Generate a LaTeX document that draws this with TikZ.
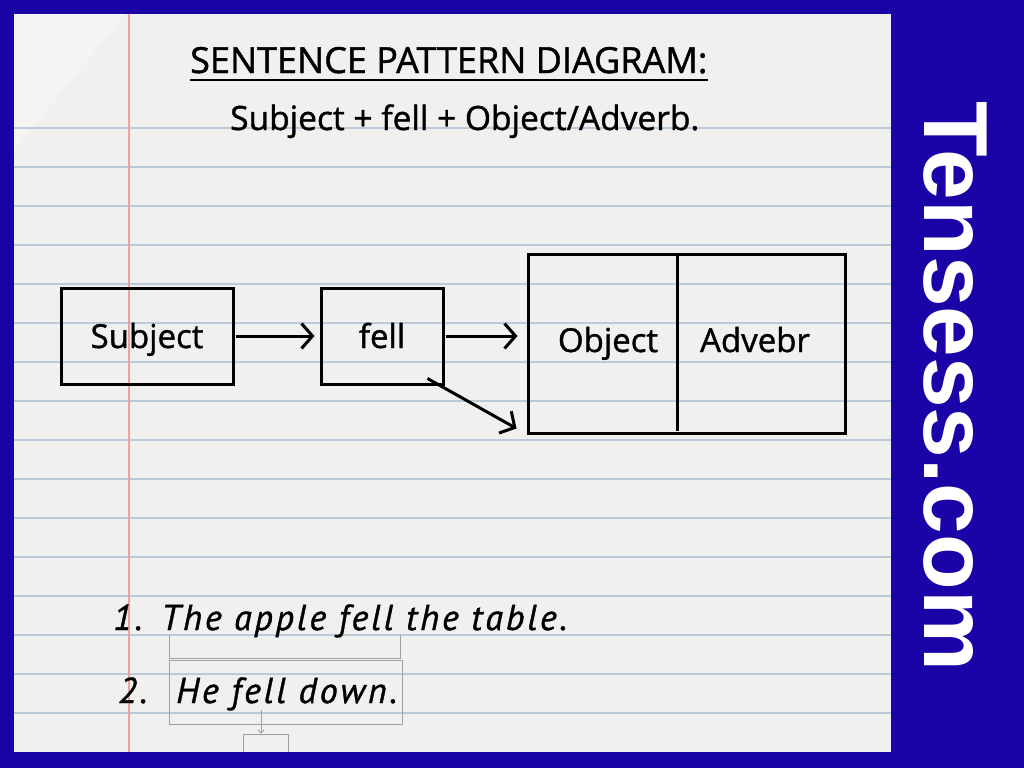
\documentclass[tikz,border=0pt]{standalone}
\usepackage{fontspec}
\setmainfont{Open Sans}[FakeBold=1.2]
\newfontfamily\hand{PT Sans}[LetterSpace=8,FakeBold=1]
\newfontfamily\brand{Liberation Sans}
\usetikzlibrary{arrows.meta}
\definecolor{bgblue}{RGB}{26,4,168}
\definecolor{paper}{RGB}{240,240,238}
\definecolor{rule}{RGB}{186,202,216}
\definecolor{margin}{RGB}{236,160,160}
\definecolor{ghost}{RGB}{160,160,160}
\tikzset{
  boxed/.style={draw=black, line width=3pt, rectangle, inner sep=0pt, text height=24pt, text depth=0pt, font=\fontsize{33}{36}\selectfont},
  lbl/.style={inner sep=0pt, anchor=base, font=\fontsize{33}{36}\selectfont},
  conn/.style={line width=3pt, -{Straight Barb[length=11pt,width=25pt,line width=3pt]}},
  handtxt/.style={inner sep=0pt, anchor=base west, font=\hand\itshape\fontsize{36}{40}\selectfont},
  ghostline/.style={draw=ghost, line width=1pt},
}
\begin{document}
\begin{tikzpicture}[x=1pt,y=-1pt]
\useasboundingbox (0,0) rectangle (1024,768);
% background
\fill[bgblue] (0,0) rectangle (1024,768);
\fill[paper] (14,14) rectangle (891,752);
\fill[white, opacity=0.3] (14,14) -- (125,14) -- (14,150) -- cycle;
% ruled lines
\foreach \k in {0,...,15}{
  \draw[rule, line width=1.6pt] (14,{128+39*\k}) -- (891,{128+39*\k});
}
\draw[margin, line width=1.5pt] (129,14) -- (129,752);
% title
\node[inner sep=0pt, anchor=base west, font=\fontsize{36}{40}\selectfont] (title) at (190,73) {SENTENCE PATTERN DIAGRAM:};
\draw[line width=2.4pt] ([yshift=-7pt]title.base west) -- ([yshift=-7pt]title.base east);
\node[inner sep=0pt, anchor=base west, font=\fontsize{33.5}{40}\selectfont] (sub) at (230,130) {Subject + fell + Object/Adverb.};
% diagram
\node[boxed, minimum width=172pt, minimum height=96pt] (subj) at (147,336) {Subject};
\node[boxed, minimum width=122pt, minimum height=96pt] (fell) at (382,336) {fell};
\node[draw=black, line width=3pt, rectangle, minimum width=317pt, minimum height=179pt, inner sep=0pt] (big) at (686.5,343.5) {};
\coordinate (divtop) at (677,254);
\coordinate (divbot) at (677,431);
\draw[line width=3pt] (divtop) -- (divbot);
\node[lbl] (obj) at (608,352) {Object};
\node[lbl] (adv) at (755,352) {Advebr};
\draw[conn, shorten <=1pt, shorten >=5pt] (subj.east) -- (fell.west);
\draw[conn, shorten <=1pt, shorten >=9pt] (fell.east) -- (fell.east -| big.west);
\draw[conn] ([xshift=-17pt,yshift=7pt]fell.south east) -- ([xshift=-10pt,yshift=6pt]big.south west);
% examples
\node[handtxt] (n1) at (113,630) {1.};
\node[handtxt] (s1) at (161,630) {The apple fell the table.};
\node[handtxt] (n2) at (118,703) {2.};
\node[handtxt] (s2) at (176,703) {He fell down.};
% faint leftover boxes
\draw[ghostline] (169,635) -- (169,658) -- (400,658) -- (400,635);
\node[ghostline, rectangle, minimum width=233pt, minimum height=64pt, inner sep=0pt] (gbox) at (285.5,692) {};
\node[ghostline, rectangle, minimum width=45pt, minimum height=30pt, inner sep=0pt] (gsmall) at (265.5,749) {};
\draw[ghost, line width=0.8pt, -{Straight Barb[length=3pt,width=6pt]}] (261,710) -- (gsmall.north -| 261,0);
% cover bottom of small ghost box
\fill[bgblue] (0,752) rectangle (1024,768);
% brand
\node[inner sep=0pt, rotate=-90, text=white, font=\brand\bfseries\fontsize{91}{96}\selectfont] (brand) at (955,386) {Tensess.com};
\end{tikzpicture}
\end{document}
